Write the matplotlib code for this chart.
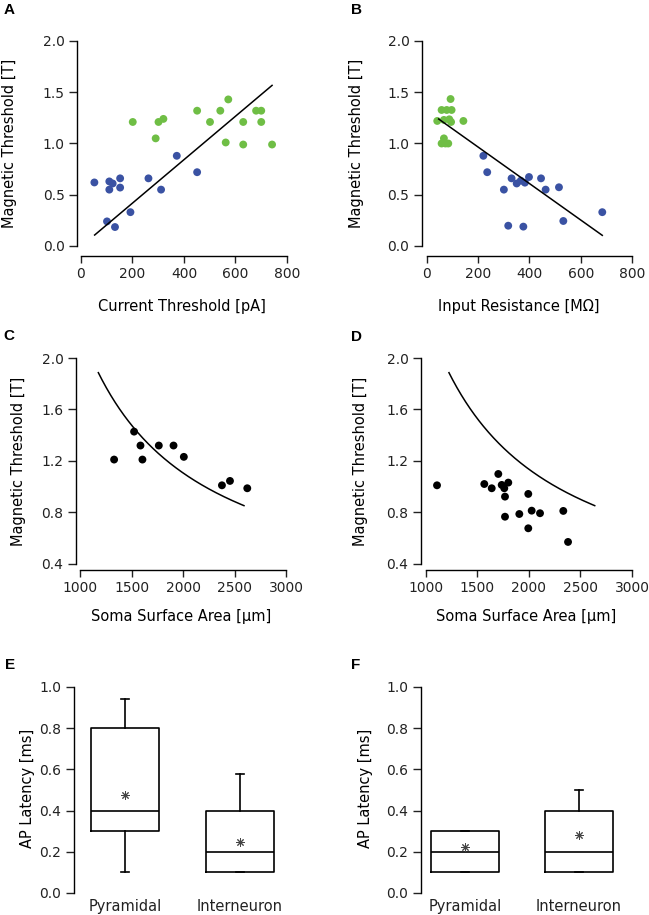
import numpy as np
import matplotlib
matplotlib.use("Agg")
import matplotlib.pyplot as plt

plt.rcParams['font.family'] = ['DejaVu Sans']

# ---------------- data ----------------
# Panel A: current threshold [pA] vs magnetic threshold [T]
a_blue_x = [52, 110, 123, 110, 152, 152, 101, 132, 192, 262, 311, 372, 451]
a_blue_y = [0.62, 0.63, 0.61, 0.55, 0.66, 0.57, 0.24, 0.185, 0.33, 0.66, 0.55, 0.88, 0.72]
a_green_x = [201, 290, 301, 320, 451, 501, 541, 572, 562, 630, 630, 680, 700, 700, 742]
a_green_y = [1.21, 1.05, 1.21, 1.24, 1.32, 1.21, 1.32, 1.43, 1.01, 1.21, 0.99, 1.32, 1.32, 1.21, 0.99]
a_fit_x = [53, 742]
a_fit_y = [0.107, 1.567]

# Panel B: input resistance [MOhm] vs magnetic threshold [T]
b_green_x = [92, 57, 77, 96, 40, 66, 87, 142, 66, 57, 83, 94, 72]
b_green_y = [1.434, 1.327, 1.327, 1.327, 1.22, 1.23, 1.236, 1.22, 1.05, 1.0, 1.0, 1.21, 1.0]
b_blue_x = [220, 235, 330, 300, 350, 366, 382, 398, 445, 463, 515, 317, 376, 532, 684]
b_blue_y = [0.88, 0.72, 0.66, 0.55, 0.61, 0.637, 0.618, 0.673, 0.66, 0.55, 0.573, 0.198, 0.189, 0.244, 0.33]
b_fit_x = [45.5, 684]
b_fit_y = [1.239, 0.104]

# Panel C: soma surface area vs magnetic threshold (pyramidal)
c_x = [1331, 1525, 1587, 1606, 1765, 1908, 2008, 2378, 2456, 2624]
c_y = [1.211, 1.428, 1.32, 1.211, 1.32, 1.32, 1.232, 1.011, 1.045, 0.988]
c_curve_ends_x = [1178, 2592]
c_curve_ends_y = [1.886, 0.853]

# Panel D: soma surface area vs magnetic threshold (interneuron)
d_x = [1107, 1702, 1566, 1638, 1735, 1760, 1799, 1767, 1767, 1906, 1993, 2026, 2107, 1993, 2333, 2379]
d_y = [1.011, 1.099, 1.021, 0.988, 1.014, 0.988, 1.032, 0.923, 0.767, 0.788, 0.944, 0.814, 0.794, 0.677, 0.812, 0.571]
d_curve_ends_x = [1223, 2638]
d_curve_ends_y = [1.886, 0.853]

# Panels E, F: AP latency box plots
categories = ["Pyramidal", "Interneuron"]
e_whislo = [0.10, 0.10]
e_q1 = [0.30, 0.10]
e_med = [0.40, 0.20]
e_q3 = [0.80, 0.40]
e_whishi = [0.94, 0.58]
e_mean = [0.476, 0.249]

f_whislo = [0.10, 0.10]
f_q1 = [0.10, 0.10]
f_med = [0.20, 0.20]
f_q3 = [0.30, 0.40]
f_whishi = [0.30, 0.50]
f_mean = [0.224, 0.28]

# ---------------- styling ----------------
BLUE = "#3a52a3"
GREEN = "#6fbe45"
W, H = 649, 915
FS_TICK = 10
FS_LAB = 10.5

fig = plt.figure(figsize=(W / 100, H / 100), dpi=100)


def make_ax(left, right, bottom, top):
    return fig.add_axes([left / W, 1 - bottom / H, (right - left) / W, (bottom - top) / H])


def style(ax, left, right, bottom, top, xlab_px=None, ylab_px=None):
    for s in ("top", "right"):
        ax.spines[s].set_visible(False)
    for s in ("left", "bottom"):
        ax.spines[s].set_linewidth(1.0)
    ax.tick_params(axis="y", direction="out", length=6, width=1.0, pad=3,
                   labelsize=FS_TICK, colors="#222222")
    ax.tick_params(axis="x", direction="out", length=5, width=1.0, pad=3,
                   labelsize=FS_TICK, colors="#222222")
    w = right - left
    h = bottom - top
    if xlab_px is not None:
        ax.xaxis.label.set_va("center")
        ax.xaxis.set_label_coords((xlab_px[0] - left) / w, (bottom - xlab_px[1]) / h)
    if ylab_px is not None:
        ax.yaxis.label.set_va("center")
        ax.yaxis.set_label_coords((ylab_px[0] - left) / w, (bottom - ylab_px[1]) / h)


def letter(txt, x, y):
    fig.text(x / W, 1 - y / H, txt, ha="center", va="center", fontsize=11,
             fontweight="bold", family=["Liberation Sans", "DejaVu Sans"])


def power_curve(ax, xs, ys):
    p = np.log(ys[0] / ys[1]) / np.log(xs[1] / xs[0])
    xx = np.linspace(xs[0], xs[1], 200)
    ax.plot(xx, ys[0] * (xx / xs[0]) ** (-p), color="black", lw=1.1)


fmt = matplotlib.ticker.FormatStrFormatter("%.1f")

# ---- Panel A ----
L, R, B, T = 77, 287, 256, 41
axA = make_ax(L, R, B, T)
axA.scatter(a_blue_x, a_blue_y, s=32, color=BLUE, edgecolors="none", clip_on=False, zorder=3)
axA.scatter(a_green_x, a_green_y, s=32, color=GREEN, edgecolors="none", clip_on=False, zorder=3)
axA.plot(a_fit_x, a_fit_y, color="black", lw=1.1, zorder=4)
axA.set_xlim(-15.5, 800)
axA.set_ylim(-0.0976, 2.0)
axA.set_xticks([0, 200, 400, 600, 800])
axA.set_yticks([0.0, 0.5, 1.0, 1.5, 2.0])
axA.yaxis.set_major_formatter(fmt)
axA.spines["left"].set_bounds(0, 2)
axA.spines["bottom"].set_bounds(0, 800)
axA.set_xlabel("Current Threshold [pA]", fontsize=FS_LAB)
axA.set_ylabel("Magnetic Threshold [T]", fontsize=FS_LAB)
style(axA, L, R, B, T, (182, 307), (10, 143.5))
letter("A", 9, 10)

# ---- Panel B ----
L, R, B, T = 422, 632, 256, 41
axB = make_ax(L, R, B, T)
axB.scatter(b_green_x, b_green_y, s=32, color=GREEN, edgecolors="none", clip_on=False, zorder=3)
axB.scatter(b_blue_x, b_blue_y, s=32, color=BLUE, edgecolors="none", clip_on=False, zorder=3)
axB.plot(b_fit_x, b_fit_y, color="black", lw=1.1, zorder=4)
axB.set_xlim(-19.5, 800)
axB.set_ylim(-0.0976, 2.0)
axB.set_xticks([0, 200, 400, 600, 800])
axB.set_yticks([0.0, 0.5, 1.0, 1.5, 2.0])
axB.yaxis.set_major_formatter(fmt)
axB.spines["left"].set_bounds(0, 2)
axB.spines["bottom"].set_bounds(0, 800)
axB.set_xlabel("Input Resistance [MΩ]", fontsize=FS_LAB)
axB.set_ylabel("Magnetic Threshold [T]", fontsize=FS_LAB)
style(axB, L, R, B, T, (519, 307), (356, 143.5))
letter("B", 357, 10)

# ---- Panel C ----
L, R, B, T = 76, 286, 570, 358
axC = make_ax(L, R, B, T)
axC.scatter(c_x, c_y, s=32, color="black", edgecolors="none", clip_on=False, zorder=3)
power_curve(axC, c_curve_ends_x, c_curve_ends_y)
axC.set_xlim(961, 3000)
axC.set_ylim(0.353, 2.0)
axC.set_xticks([1000, 1500, 2000, 2500, 3000])
axC.set_yticks([0.4, 0.8, 1.2, 1.6, 2.0])
axC.yaxis.set_major_formatter(fmt)
axC.spines["left"].set_bounds(0.4, 2.0)
axC.spines["bottom"].set_bounds(1000, 3000)
axC.set_xlabel("Soma Surface Area [µm]", fontsize=FS_LAB)
axC.set_ylabel("Magnetic Threshold [T]", fontsize=FS_LAB)
style(axC, L, R, B, T, (181, 617), (19, 461))
letter("C", 9, 336)

# ---- Panel D ----
L, R, B, T = 421, 632, 570, 358
axD = make_ax(L, R, B, T)
axD.scatter(d_x, d_y, s=32, color="black", edgecolors="none", clip_on=False, zorder=3)
power_curve(axD, d_curve_ends_x, d_curve_ends_y)
axD.set_xlim(951.5, 3000)
axD.set_ylim(0.353, 2.0)
axD.set_xticks([1000, 1500, 2000, 2500, 3000])
axD.set_yticks([0.4, 0.8, 1.2, 1.6, 2.0])
axD.yaxis.set_major_formatter(fmt)
axD.spines["left"].set_bounds(0.4, 2.0)
axD.spines["bottom"].set_bounds(1000, 3000)
axD.set_xlabel("Soma Surface Area [µm]", fontsize=FS_LAB)
axD.set_ylabel("Magnetic Threshold [T]", fontsize=FS_LAB)
style(axD, L, R, B, T, (526, 617), (361, 461))
letter("D", 357, 337)


# ---- Box panels ----
def box_panel(L, R, B, T, x1px, x2px, whislo, q1, med, q3, whishi, mean, ylab_px, let, let_px):
    ax = make_ax(L, R, B, T)
    scale = x2px - x1px
    stats = []
    for i in range(2):
        stats.append(dict(label=categories[i], whislo=whislo[i], q1=q1[i], med=med[i],
                          q3=q3[i], whishi=whishi[i], fliers=[]))
    bw = 68.5 / scale
    ax.bxp(stats, positions=[1, 2], widths=bw, capwidths=8 / scale, showfliers=False,
           boxprops=dict(color="black", lw=1.2), medianprops=dict(color="black", lw=1.2),
           whiskerprops=dict(color="black", lw=1.2), capprops=dict(color="black", lw=1.2))
    ax.plot([1, 2], mean, linestyle="none", marker=(8, 2, 0), markersize=6,
            color="#444444", mew=0.7, zorder=5)
    ax.set_xlim(1 - (x1px - L) / scale, 2 + (R - x2px) / scale)
    ax.set_ylim(0, 1.0)
    ax.set_yticks([0.0, 0.2, 0.4, 0.6, 0.8, 1.0])
    ax.yaxis.set_major_formatter(fmt)
    ax.spines["bottom"].set_visible(False)
    ax.spines["left"].set_bounds(0, 1.0)
    ax.set_ylabel("AP Latency [ms]", fontsize=FS_LAB)
    style(ax, L, R, B, T, None, ylab_px)
    ax.tick_params(axis="x", length=0, pad=4, labelsize=FS_LAB, colors="#222222")
    letter(let, *let_px)
    return ax


box_panel(74, 300, 893, 687, 125, 240, e_whislo, e_q1, e_med, e_q3, e_whishi, e_mean,
          (27.5, 788), "E", (10, 665))
box_panel(421, 640, 893, 687, 465, 579, f_whislo, f_q1, f_med, f_q3, f_whishi, f_mean,
          (366, 788), "F", (356, 665))

fig.savefig("out.png", dpi=100)
